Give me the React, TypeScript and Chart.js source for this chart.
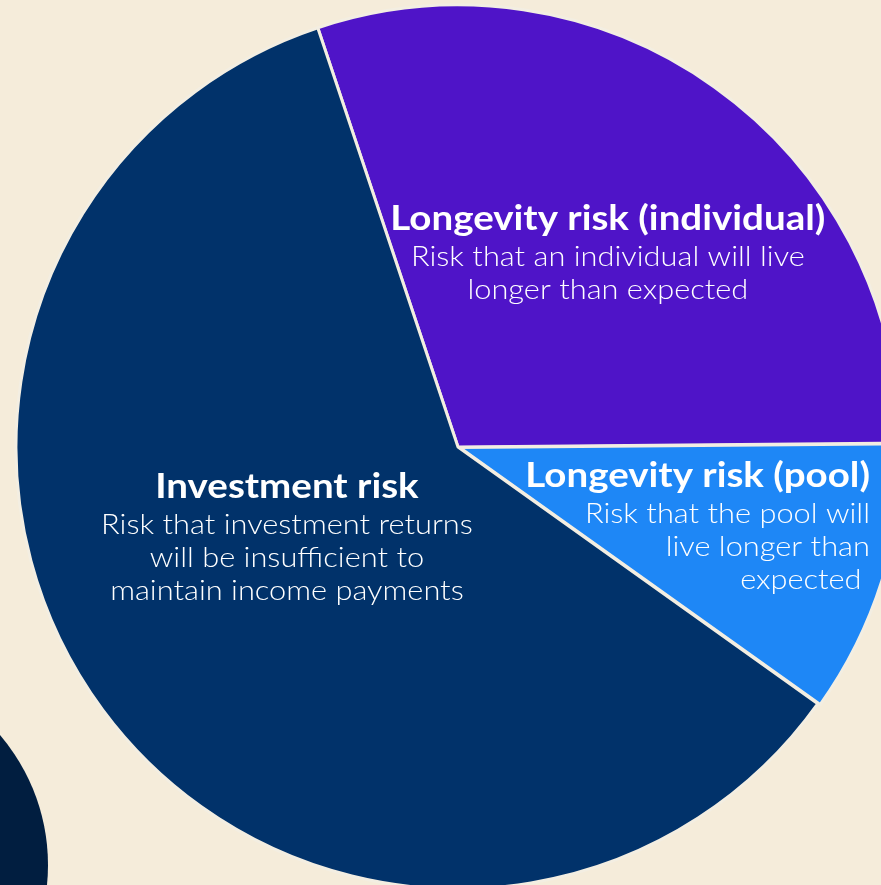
import React, { useEffect, useRef } from "react";
import { Chart, registerables } from "chart.js";

Chart.register(...registerables);

// ---- data ----
const categories = ["Longevity risk (individual)", "Longevity risk (pool)", "Investment risk"];
const shares = [30, 10, 60];
const descriptions = [
  ["Risk that an individual will live", "longer than expected"],
  ["Risk that the pool will", "live longer than", "expected "],
  ["Risk that investment returns", "will be insufficient to", "maintain income payments"],
];

// ---- styling ----
const sliceColors = ["#4f14c8", "#1e87f6", "#01326a"];
const BG = "#f5ecda";
const BORDER = "#f3eee2";
const DECOR = "#011e40";

// label anchors relative to pie centre, in units of the outer radius
const labelAnchors = [
  { ax: 0.339, ay: -0.491, align: "center" as CanvasTextAlign },
  { ax: 0.932, ay: 0.09, align: "right" as CanvasTextAlign },
  { ax: -0.387, ay: 0.115, align: "center" as CanvasTextAlign },
];

const FONT_FAMILY = "Lato, 'Open Sans', sans-serif";
const STRETCH = 1.1;

const backgroundPlugin = {
  id: "bgDecor",
  beforeDraw(chart: any) {
    const { ctx, width, height } = chart;
    ctx.save();
    ctx.fillStyle = BG;
    ctx.fillRect(0, 0, width, height);
    ctx.fillStyle = DECOR;
    ctx.beginPath();
    ctx.arc(-152, 865, 200, 0, Math.PI * 2);
    ctx.fill();
    ctx.restore();
  },
};

function drawStretched(ctx: CanvasRenderingContext2D, text: string, x: number, y: number) {
  ctx.save();
  ctx.translate(x, y);
  ctx.scale(STRETCH, 1);
  ctx.fillText(text, 0, 0);
  ctx.restore();
}

const labelPlugin = {
  id: "sliceLabels",
  afterDatasetsDraw(chart: any) {
    const meta = chart.getDatasetMeta(0);
    const { ctx } = chart;
    ctx.save();
    ctx.fillStyle = "#ffffff";
    ctx.textBaseline = "alphabetic";
    meta.data.forEach((arc: any, i: number) => {
      const R = arc.outerRadius;
      const a = labelAnchors[i];
      const x = arc.x + a.ax * R;
      let y = arc.y + a.ay * R;
      ctx.textAlign = a.align;
      ctx.font = `bold 35px ${FONT_FAMILY}`;
      drawStretched(ctx, categories[i], x, y);
      ctx.font = `300 28px ${FONT_FAMILY}`;
      y += 36;
      descriptions[i].forEach((line) => {
        drawStretched(ctx, line, x, y);
        y += 33;
      });
    });
    ctx.restore();
  },
};

export default function App() {
  const ref = useRef<HTMLCanvasElement>(null);
  useEffect(() => {
    document.body.style.margin = "0";
    document.body.style.background = BG;
    const chart = new Chart(ref.current!, {
      type: "pie",
      data: {
        labels: categories,
        datasets: [
          {
            data: shares,
            backgroundColor: sliceColors,
            borderColor: BORDER,
            borderWidth: 3,
            offset: [0, 7, 0],
            clip: false as any,
          },
        ],
      },
      options: {
        animation: false,
        responsive: false,
        devicePixelRatio: 1,
        rotation: -18.5,
        radius: 442,
        layout: { padding: { left: 35, right: 0, top: 9, bottom: 0 } },
        plugins: {
          legend: { display: false },
          tooltip: { enabled: false },
        },
      },
      plugins: [backgroundPlugin, labelPlugin],
    });
    return () => chart.destroy();
  }, []);
  return (
    <div style={{ width: 881, height: 885, overflow: "hidden" }}>
      <canvas ref={ref} width={881} height={885} style={{ display: "block" }} />
    </div>
  );
}
